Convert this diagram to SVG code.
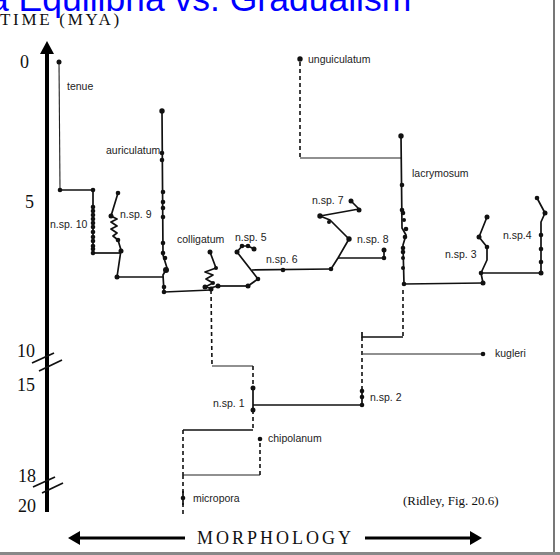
<svg xmlns="http://www.w3.org/2000/svg" width="560" height="555" viewBox="0 0 560 555">
<style>
.ln{stroke:#111;stroke-width:1.7;fill:none;stroke-linejoin:round}
.thin{stroke:#222;stroke-width:1.1;fill:none}
.dash{stroke:#111;stroke-width:1.6;fill:none;stroke-dasharray:4 3}
.dot{fill:#111}
.lbl{font-family:"Liberation Sans",Arial,sans-serif;font-size:10.5px;fill:#222}
.ser{font-family:"Liberation Serif","Times New Roman",serif;fill:#111}
.axis{stroke:#000;stroke-width:4;fill:none}
.brk{stroke:#111;stroke-width:1.8}
</style>
<rect width="560" height="555" fill="#fff"/>
<text x="-11" y="11" font-family="Liberation Sans,Arial,sans-serif" font-size="35.5" fill="#0000ff">a Equilibria vs. Gradualism</text>
<g id="axis-time">
<text class="ser" x="0" y="25" font-size="17" letter-spacing="2.7">TIME (MYA)</text>
<line class="axis" x1="47" y1="52" x2="47" y2="512"/>
<polygon points="47,41 40,54 54,54" fill="#000"/>
<line class="brk" x1="32" y1="363" x2="54" y2="353"/>
<line class="brk" x1="39" y1="371" x2="62" y2="360"/>
<line class="brk" x1="33" y1="487" x2="55" y2="477"/>
<line class="brk" x1="42" y1="493" x2="63" y2="483"/>
<g class="ser" font-size="18">
<text x="20" y="68">0</text>
<text x="25" y="208">5</text>
<text x="17" y="357">10</text>
<text x="17" y="391">15</text>
<text x="18" y="482">18</text>
<text x="18" y="512">20</text>
</g>
</g>
<g id="axis-morphology">
<line x1="78" y1="538" x2="185" y2="538" stroke="#000" stroke-width="3"/>
<polygon points="68,538 80,531 80,545" fill="#000"/>
<line x1="365" y1="538" x2="472" y2="538" stroke="#000" stroke-width="3"/>
<polygon points="482,538 470,531 470,545" fill="#000"/>
<text class="ser" x="197" y="544" font-size="18" letter-spacing="3">MORPHOLOGY</text>
</g>
<g id="connectors">
<line class="ln" x1="60" y1="190" x2="93" y2="190"/>
<line class="ln" x1="93" y1="253" x2="121" y2="253"/>
<line class="ln" x1="117" y1="277" x2="163" y2="277"/>
<line class="ln" x1="164" y1="292" x2="211" y2="290"/>
<line class="ln" x1="218" y1="286" x2="248" y2="286"/>
<line class="ln" x1="252" y1="270" x2="331" y2="269"/>
<line class="ln" x1="338" y1="258" x2="384" y2="258"/>
<line class="dash" x1="211" y1="290" x2="212" y2="365"/>
<line class="thin" x1="212" y1="366" x2="253" y2="366"/>
<line class="dash" x1="253" y1="366" x2="253" y2="388"/>
<line class="dash" x1="253" y1="410" x2="253" y2="430"/>
<line class="ln" x1="253" y1="405" x2="362" y2="405"/>
<line class="dash" x1="362" y1="337" x2="362" y2="388"/>
<line class="thin" x1="363" y1="354" x2="483" y2="354"/>
<polyline class="ln" points="362,332 362,337 403,337"/>
<line class="dash" x1="403" y1="290" x2="403" y2="337"/>
<line class="dash" x1="300" y1="62" x2="300" y2="158"/>
<line class="thin" x1="300" y1="158" x2="402" y2="158"/>
<line class="ln" x1="404" y1="284" x2="483" y2="283"/>
<line class="ln" x1="481" y1="273" x2="541" y2="273"/>
<line class="ln" x1="183" y1="430" x2="253" y2="430"/>
<line class="dash" x1="183" y1="430" x2="183" y2="475"/>
<line class="thin" x1="183" y1="475" x2="260" y2="475"/>
<line class="dash" x1="260" y1="475" x2="260" y2="441"/>
<line class="dash" x1="183" y1="475" x2="183" y2="517"/>
</g>
<g id="tenue">
<line class="thin" x1="59" y1="62" x2="60" y2="190"/>
<circle class="dot" cx="59" cy="62" r="2.5"/>
<circle class="dot" cx="60" cy="190" r="2.3"/>
<text class="lbl" x="67" y="90">tenue</text>
</g>
<g id="nsp10">
<line class="ln" x1="93" y1="190" x2="93" y2="253"/>
<g class="dot">
<circle cx="93" cy="190" r="2.3"/><circle cx="93" cy="207" r="2.3"/><circle cx="93" cy="211" r="2.3"/><circle cx="93" cy="215" r="2.3"/><circle cx="93" cy="219" r="2.3"/><circle cx="93" cy="223" r="2.3"/><circle cx="93" cy="227" r="2.3"/><circle cx="93" cy="232" r="2.3"/><circle cx="93" cy="237" r="2.3"/><circle cx="93" cy="241" r="2.3"/><circle cx="93" cy="246" r="2.3"/><circle cx="93" cy="249" r="2.3"/><circle cx="93" cy="253" r="2.3"/>
</g>
<text class="lbl" x="50" y="228">n.sp. 10</text>
</g>
<g id="nsp9">
<polyline class="ln" points="118,193 111,216 117,219 111,222 117,226 111,229 117,233 113,236 118,240 121,250 117,277" stroke-width="2"/>
<g class="dot">
<circle cx="118" cy="193" r="2.3"/><circle cx="111" cy="216" r="2.5"/><circle cx="118" cy="240" r="2.3"/><circle cx="121" cy="251" r="2.5"/><circle cx="117" cy="277" r="2.5"/>
</g>
<text class="lbl" x="120" y="218">n.sp. 9</text>
</g>
<g id="auriculatum">
<polyline class="ln" points="162,111 163,255 167,268 163,275 164,292"/>
<g class="dot">
<circle cx="162" cy="111" r="2.7"/><circle cx="162" cy="153" r="2.3"/><circle cx="162" cy="160" r="2.3"/><circle cx="163" cy="192" r="2.3"/><circle cx="163" cy="202" r="2.3"/><circle cx="163" cy="208" r="2.3"/><circle cx="163" cy="217" r="2.3"/><circle cx="163" cy="243" r="2.3"/><circle cx="163" cy="253" r="2.3"/><circle cx="165" cy="258" r="2.3"/><circle cx="166" cy="270" r="3"/><circle cx="164" cy="287" r="2.3"/><circle cx="164" cy="292" r="2.3"/>
</g>
<text class="lbl" x="106" y="154">auriculatum</text>
</g>
<g id="colligatum">
<polyline class="ln" points="210,252 216,268 205,272 213,275 206,279 213,283 205,287 210,288 218,286"/>
<g class="dot">
<circle cx="210" cy="252" r="2.5"/><circle cx="216" cy="268" r="2"/><circle cx="205" cy="287" r="2.5"/><circle cx="211" cy="289" r="2.5"/><circle cx="218" cy="286" r="2.5"/><circle cx="213" cy="283" r="2"/>
</g>
<text class="lbl" x="177" y="243">colligatum</text>
</g>
<g id="nsp5">
<polyline class="ln" points="248,286 258,279 237,252 242,246 248,246 254,249"/>
<g class="dot">
<circle cx="237" cy="252" r="2.5"/><circle cx="242" cy="246" r="2.3"/><circle cx="248" cy="246" r="2.3"/><circle cx="254" cy="249" r="2.5"/><circle cx="258" cy="279" r="2.3"/><circle cx="248" cy="286" r="2.5"/>
</g>
<text class="lbl" x="235" y="241">n.sp. 5</text>
</g>
<g id="nsp6">
<circle class="dot" cx="283" cy="270" r="2.3"/>
<circle class="dot" cx="331" cy="269" r="2.3"/>
<text class="lbl" x="266" y="263">n.sp. 6</text>
</g>
<g id="nsp7">
<polyline class="ln" points="331,269 338,258 349,239 330,220 320,216 359,209 351,201"/>
<g class="dot">
<circle cx="349" cy="239" r="2.7"/><circle cx="329" cy="222" r="2"/><circle cx="320" cy="216" r="2.7"/><circle cx="359" cy="210" r="2.5"/><circle cx="351" cy="201" r="2.5"/>
</g>
<text class="lbl" x="312" y="204">n.sp. 7</text>
</g>
<g id="nsp8">
<line class="ln" x1="384" y1="250" x2="384" y2="258"/>
<circle class="dot" cx="384" cy="250" r="2.5"/>
<circle class="dot" cx="384" cy="258" r="2.3"/>
<text class="lbl" x="357" y="243">n.sp. 8</text>
</g>
<g id="unguiculatum">
<circle class="dot" cx="300" cy="59" r="2.7"/>
<text class="lbl" x="308" y="63">unguiculatum</text>
</g>
<g id="lacrymosum">
<polyline class="ln" points="401,136 402,228 406,235 403,245 404,284"/>
<g class="dot">
<circle cx="401" cy="136" r="2.7"/><circle cx="402" cy="185" r="2.3"/><circle cx="402" cy="210" r="2.3"/><circle cx="403" cy="213" r="2.3"/><circle cx="404" cy="220" r="2"/><circle cx="406" cy="229" r="2.3"/><circle cx="405" cy="237" r="2.3"/><circle cx="403" cy="248" r="2.3"/><circle cx="403" cy="252" r="2.3"/><circle cx="403" cy="258" r="2"/><circle cx="403" cy="268" r="2"/><circle cx="404" cy="284" r="2.3"/>
</g>
<text class="lbl" x="412" y="177">lacrymosum</text>
</g>
<g id="nsp3">
<polyline class="ln" points="483,283 481,273 487,260 487,247 479,237 487,217"/>
<g class="dot">
<circle cx="483" cy="283" r="2.5"/><circle cx="481" cy="273" r="2.3"/><circle cx="487" cy="247" r="2.3"/><circle cx="479" cy="237" r="2.5"/><circle cx="487" cy="217" r="2.5"/>
</g>
<text class="lbl" x="445" y="258">n.sp. 3</text>
</g>
<g id="nsp4">
<polyline class="ln" points="541,273 541,222 545,213 537,198"/>
<g class="dot">
<circle cx="541" cy="273" r="2.5"/><circle cx="541" cy="262" r="2.3"/><circle cx="541" cy="249" r="2.3"/><circle cx="541" cy="235" r="2.3"/><circle cx="545" cy="213" r="2.5"/><circle cx="537" cy="198" r="2.3"/>
</g>
<text class="lbl" x="503" y="239">n.sp.4</text>
</g>
<g id="nsp1">
<line class="ln" x1="253" y1="388" x2="253" y2="410"/>
<circle class="dot" cx="253" cy="388" r="2.5"/>
<circle class="dot" cx="253" cy="410" r="2.5"/>
<text class="lbl" x="213" y="407">n.sp. 1</text>
</g>
<g id="nsp2">
<line class="ln" x1="362" y1="388" x2="362" y2="405"/>
<circle class="dot" cx="362" cy="391" r="2.3"/><circle class="dot" cx="362" cy="397" r="2.3"/><circle class="dot" cx="362" cy="405" r="2.3"/>
<text class="lbl" x="370" y="401">n.sp. 2</text>
</g>
<g id="kugleri">
<circle class="dot" cx="483" cy="354" r="2.3"/>
<text class="lbl" x="495" y="357">kugleri</text>
</g>
<g id="chipolanum">
<circle class="dot" cx="260" cy="439" r="2.3"/>
<text class="lbl" x="268" y="442">chipolanum</text>
</g>
<g id="micropora">
<line class="ln" x1="183" y1="491" x2="183" y2="505"/>
<circle class="dot" cx="183" cy="498" r="2.3"/>
<text class="lbl" x="193" y="502">micropora</text>
</g>
<text class="ser" x="403" y="505" font-size="13">(Ridley, Fig. 20.6)</text>
<line x1="554" y1="0" x2="554" y2="552" stroke="#777" stroke-width="2"/>
<rect x="0" y="552" width="560" height="3" fill="#888"/>
</svg>
